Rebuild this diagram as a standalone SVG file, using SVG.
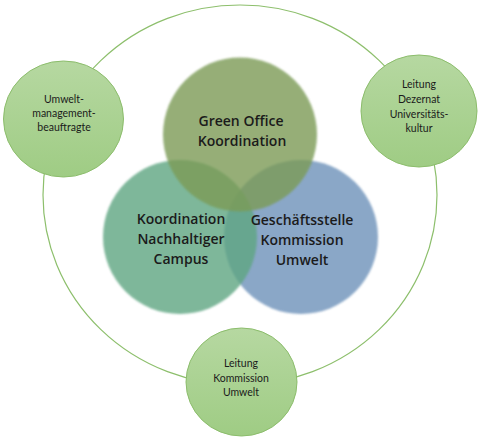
<svg xmlns="http://www.w3.org/2000/svg" width="480" height="441" viewBox="0 0 480 441">
<defs>
<linearGradient id="small" x1="0" y1="0" x2="0" y2="1">
<stop offset="0" stop-color="#b6d8a1"/>
<stop offset="1" stop-color="#9fcc84"/>
</linearGradient>
<filter id="soft" x="-10%" y="-10%" width="120%" height="120%">
<feGaussianBlur stdDeviation="1"/>
</filter>
</defs>
<style>
.ring{fill:none;stroke:#8dbf6c;stroke-width:1.2}
.small{fill:url(#small);stroke:#8cbd6c;stroke-width:1}
.big{filter:url(#soft);opacity:0.8}
.bt{font-family:"Open Sans","DejaVu Sans",sans-serif;font-weight:600;font-size:14px;fill:#1b1b1b;text-anchor:middle}
.st{font-family:Lato,"Liberation Sans",sans-serif;font-size:10.5px;fill:#1b1b1b;text-anchor:middle}
</style>
<rect width="480" height="441" fill="#ffffff"/>
<g id="connectors">
<ellipse class="ring" cx="240" cy="195" rx="197" ry="190"/>
</g>
<g id="node-umwelt">
<ellipse class="small" cx="63.5" cy="119" rx="60" ry="58"/>
<text class="st" x="64" y="103">Umwelt-</text>
<text class="st" x="64" y="117">management-</text>
<text class="st" x="64" y="131">beauftragte</text>
</g>
<g id="node-dezernat">
<ellipse class="small" cx="419" cy="111" rx="58" ry="56"/>
<text class="st" x="419" y="88">Leitung</text>
<text class="st" x="419" y="103">Dezernat</text>
<text class="st" x="419" y="117.5">Universitäts-</text>
<text class="st" x="419" y="132">kultur</text>
</g>
<g id="node-kommission">
<ellipse class="small" cx="241.5" cy="382" rx="55.5" ry="54"/>
<text class="st" x="241" y="367">Leitung</text>
<text class="st" x="241" y="382">Kommission</text>
<text class="st" x="241" y="396">Umwelt</text>
</g>
<g id="node-geschaeftsstelle">
<circle class="big" cx="301" cy="237" r="77" fill="#6d92ba"/>
</g>
<g id="node-campus">
<circle class="big" cx="180" cy="237" r="77" fill="#5fa682"/>
</g>
<g id="node-greenoffice">
<circle class="big" cx="240" cy="134.5" r="77" fill="#7c9b56"/>
<text class="bt" x="241" y="126">Green Office</text>
<text class="bt" x="242" y="146">Koordination</text>
</g>
<g id="labels-lower">
<text class="bt" x="181" y="224">Koordination</text>
<text class="bt" x="181" y="244">Nachhaltiger</text>
<text class="bt" x="181" y="264">Campus</text>
<text class="bt" x="302" y="225">Geschäftsstelle</text>
<text class="bt" x="302" y="245">Kommission</text>
<text class="bt" x="302" y="265">Umwelt</text>
</g>
</svg>
